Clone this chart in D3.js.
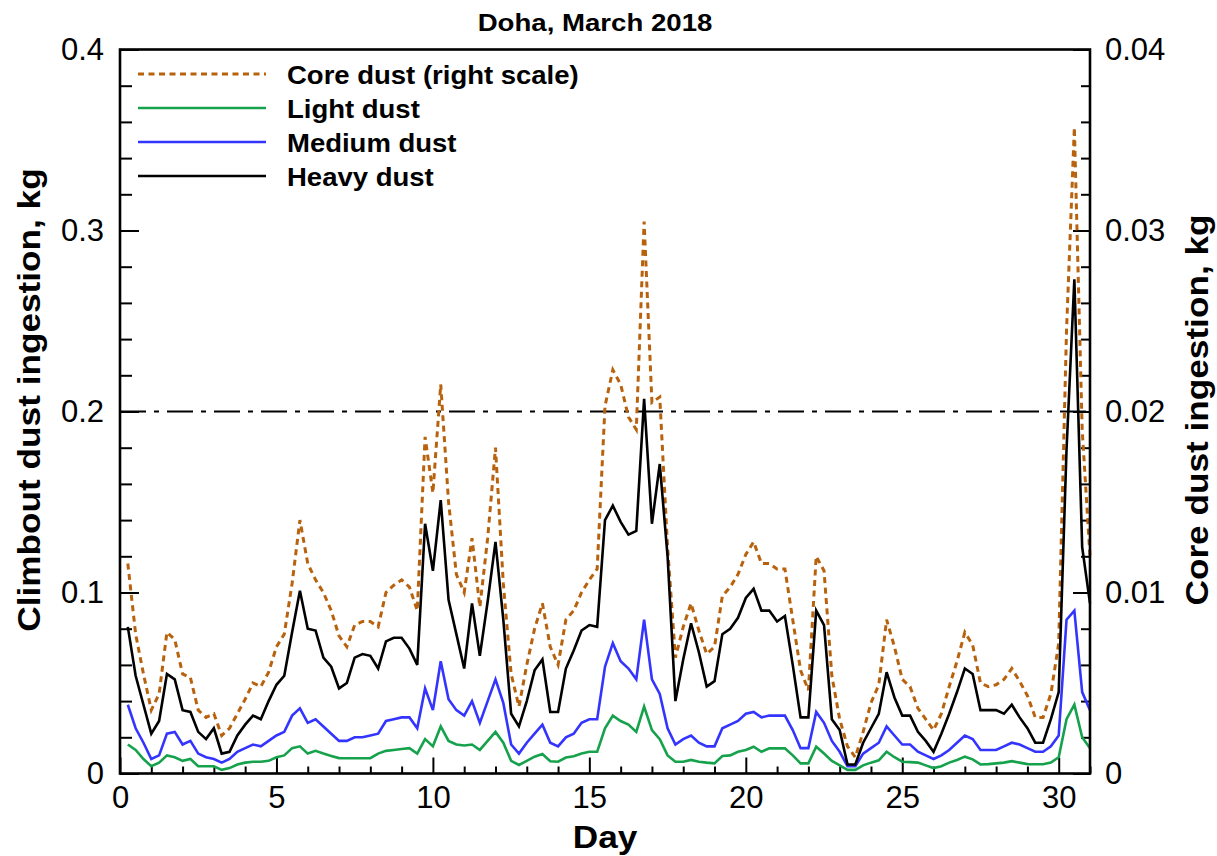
<!DOCTYPE html>
<html>
<head>
<meta charset="utf-8">
<script src="https://cdn.jsdelivr.net/npm/d3@7"></script>
<style>
  html, body { margin: 0; padding: 0; background: #fff; }
  svg { display: block; font-family: "Liberation Sans", Arial, Helvetica, sans-serif; }
</style>
</head>
<body>
<svg id="chart" width="1217" height="856"></svg>
<script>
// Sampling times: every 6 hours through March (day 0.25 … 31.0)
const day = d3.range(1, 125).map(i => i / 4);

// Core dust ingestion, kg (right scale)
const coreDust = [
  // days 0.25 – 10.5
  0.0116, 0.0077, 0.0055, 0.0035, 0.0044, 0.0078, 0.0074, 0.0055, 0.0053, 0.0035,
  0.0031, 0.0033, 0.0021, 0.0025, 0.0033, 0.0041, 0.0050, 0.0048, 0.0056, 0.0070,
  0.0077, 0.0105, 0.0140, 0.0116, 0.0107, 0.0100, 0.0090, 0.0076, 0.0070, 0.0082,
  0.0084, 0.0084, 0.0081, 0.0100, 0.0104, 0.0107, 0.0103, 0.0090, 0.0186, 0.0155,
  0.0215, 0.0150,
  // days 10.75 – 20.0
  0.0110, 0.0100, 0.0130, 0.0092, 0.0130, 0.0180, 0.0105, 0.0055, 0.0037, 0.0060,
  0.0080, 0.0094, 0.0070, 0.0060, 0.0085, 0.0090, 0.0100, 0.0107, 0.0113, 0.0203,
  0.0223, 0.0215, 0.0197, 0.0190, 0.0305, 0.0205, 0.0208, 0.0125, 0.0064, 0.0081,
  0.0094, 0.0079, 0.0066, 0.0070, 0.0098, 0.0103, 0.0110, 0.0121,
  // days 20.25 – 31.0
  0.0128, 0.0116, 0.0116, 0.0113, 0.0113, 0.0085, 0.0057, 0.0046, 0.0120, 0.0112,
  0.0054, 0.0030, 0.0015, 0.0009, 0.0023, 0.0039, 0.0049, 0.0085, 0.0070, 0.0052,
  0.0048, 0.0036, 0.0030, 0.0024, 0.0033, 0.0048, 0.0062, 0.0078, 0.0071, 0.0050,
  0.0048, 0.0049, 0.0052, 0.0058, 0.0051, 0.0043, 0.0031, 0.0031, 0.0044, 0.0072,
  0.0245, 0.0357, 0.0190, 0.0120
];

// Climbout dust ingestion, kg (left scale)
const lightDust = [
  0.016, 0.013, 0.008, 0.004, 0.006, 0.010, 0.009, 0.007, 0.008, 0.004,
  0.004, 0.004, 0.002, 0.003, 0.005, 0.006, 0.0065, 0.0065, 0.007, 0.009,
  0.010, 0.014, 0.015, 0.011, 0.0125, 0.011, 0.0097, 0.0085, 0.0084, 0.0084,
  0.0084, 0.0085, 0.011, 0.0125, 0.013, 0.0135, 0.014, 0.011, 0.019, 0.015,
  0.026, 0.018,
  0.016, 0.0155, 0.016, 0.013, 0.018, 0.023, 0.017, 0.007, 0.0047, 0.007,
  0.0093, 0.0108, 0.0068, 0.0065, 0.0088, 0.0095, 0.011, 0.012, 0.012, 0.025,
  0.032, 0.029, 0.027, 0.023, 0.037, 0.024, 0.019, 0.010, 0.0065, 0.0065,
  0.0075, 0.0065, 0.006, 0.0056, 0.0097, 0.010, 0.012, 0.013,
  0.0148, 0.012, 0.0139, 0.0139, 0.0139, 0.010, 0.0056, 0.0056, 0.0148, 0.011,
  0.007, 0.0045, 0.002, 0.002, 0.0045, 0.006, 0.0073, 0.012, 0.009, 0.0065,
  0.0063, 0.006, 0.0045, 0.003, 0.004, 0.006, 0.0075, 0.0093, 0.0078, 0.005,
  0.0052, 0.0056, 0.006, 0.0068, 0.006, 0.0052, 0.0051, 0.0051, 0.006, 0.009,
  0.030, 0.038, 0.020, 0.014
];

const mediumDust = [
  0.038, 0.025, 0.017, 0.008, 0.010, 0.022, 0.023, 0.016, 0.018, 0.011,
  0.009, 0.008, 0.006, 0.008, 0.012, 0.014, 0.016, 0.015, 0.018, 0.021,
  0.023, 0.032, 0.036, 0.028, 0.030, 0.026, 0.022, 0.018, 0.018, 0.020,
  0.020, 0.021, 0.022, 0.029, 0.030, 0.031, 0.031, 0.025, 0.047, 0.035,
  0.062, 0.041,
  0.035, 0.032, 0.040, 0.028, 0.040, 0.052, 0.039, 0.016, 0.011, 0.017,
  0.022, 0.027, 0.017, 0.015, 0.020, 0.022, 0.028, 0.030, 0.030, 0.059,
  0.072, 0.062, 0.058, 0.052, 0.085, 0.052, 0.044, 0.025, 0.016, 0.019,
  0.021, 0.017, 0.015, 0.015, 0.025, 0.027, 0.029, 0.033,
  0.034, 0.031, 0.032, 0.032, 0.032, 0.024, 0.014, 0.014, 0.034, 0.028,
  0.018, 0.012, 0.004, 0.004, 0.011, 0.014, 0.017, 0.026, 0.021, 0.016,
  0.016, 0.012, 0.010, 0.008, 0.010, 0.013, 0.017, 0.021, 0.019, 0.013,
  0.013, 0.013, 0.015, 0.017, 0.016, 0.014, 0.012, 0.012, 0.015, 0.021,
  0.085, 0.090, 0.045, 0.035
];

const heavyDust = [
  0.081, 0.054, 0.038, 0.022, 0.029, 0.055, 0.052, 0.035, 0.034, 0.023,
  0.019, 0.025, 0.011, 0.012, 0.021, 0.027, 0.032, 0.030, 0.040, 0.049,
  0.054, 0.078, 0.101, 0.080, 0.079, 0.064, 0.059, 0.047, 0.050, 0.064,
  0.066, 0.065, 0.058, 0.073, 0.075, 0.075, 0.069, 0.060, 0.138, 0.112,
  0.151, 0.096,
  0.077, 0.058, 0.094, 0.065, 0.095, 0.128, 0.085, 0.033, 0.026, 0.040,
  0.057, 0.063, 0.034, 0.034, 0.058, 0.068, 0.079, 0.082, 0.081, 0.140,
  0.148, 0.139, 0.132, 0.134, 0.207, 0.138, 0.171, 0.120, 0.040, 0.063,
  0.083, 0.067, 0.048, 0.051, 0.077, 0.080, 0.086, 0.097,
  0.102, 0.090, 0.090, 0.084, 0.087, 0.060, 0.031, 0.031, 0.090, 0.082,
  0.030, 0.024, 0.005, 0.005, 0.017, 0.025, 0.033, 0.056, 0.042, 0.032,
  0.032, 0.023, 0.018, 0.012, 0.022, 0.033, 0.045, 0.058, 0.055, 0.035,
  0.035, 0.035, 0.033, 0.038, 0.031, 0.025, 0.017, 0.017, 0.030, 0.045,
  0.179, 0.273, 0.125, 0.094
];

// Axis ticks
const xTicks = [0, 5, 10, 15, 20, 25, 30];
const xMinorTicks = d3.range(0, 32).filter(d => d % 5 !== 0);
const yLeftTicks = [0, 0.1, 0.2, 0.3, 0.4];
const yLeftLabels = ["0", "0.1", "0.2", "0.3", "0.4"];
const yRightTicks = [0, 0.01, 0.02, 0.03, 0.04];
const yRightLabels = ["0", "0.01", "0.02", "0.03", "0.04"];
const yMinorSteps = d3.range(0, 21).filter(i => i % 5 !== 0);

// Reference level on the left scale (dash-dot line)
const limitLevel = 0.2;

const seriesNames = ["Core dust (right scale)", "Light dust", "Medium dust", "Heavy dust"];

// ---------- layout ----------
const plot = { left: 120, right: 1090, top: 49.5, bottom: 773.5 };
const colors = { core: "#b8620e", light: "#16a24c", medium: "#3434ff", heavy: "#000000" };
const tickFont = 31;

const svg = d3.select("#chart");
svg.append("rect").attr("width", 1217).attr("height", 856).attr("fill", "#fff");

const x = d3.scaleLinear().domain([0, 31]).range([plot.left, plot.right]);
const yL = d3.scaleLinear().domain([0, 0.4]).range([plot.bottom, plot.top]);
const yR = d3.scaleLinear().domain([0, 0.04]).range([plot.bottom, plot.top]);

// text helper: horizontally widened glyphs
function label(parent, txt, px, py, opts) {
  const o = Object.assign({ size: 25, weight: "bold", sx: 1.1, anchor: "start", rotate: 0 }, opts);
  return parent.append("text")
    .attr("transform", `translate(${px},${py}) rotate(${o.rotate}) scale(${o.sx},1)`)
    .attr("text-anchor", o.anchor)
    .attr("font-size", o.size)
    .attr("font-weight", o.weight)
    .attr("fill", "#000")
    .text(txt);
}

function styleAxis(g) {
  g.select(".domain").remove();
  g.selectAll(".tick line").attr("stroke", "#000").attr("stroke-width", 2);
  g.selectAll(".tick text")
    .attr("font-size", tickFont)
    .attr("font-family", '"Liberation Sans", Arial, Helvetica, sans-serif')
    .attr("fill", "#000");
}

// ---------- axes ----------
// bottom
svg.append("g").attr("transform", `translate(0,${plot.bottom})`)
  .call(d3.axisBottom(x).tickValues(xMinorTicks).tickSize(-7).tickFormat(""))
  .call(styleAxis);
svg.append("g").attr("transform", `translate(0,${plot.bottom})`)
  .call(d3.axisBottom(x).tickValues(xTicks).tickSize(-16).tickPadding(12).tickFormat(d3.format("d")))
  .call(styleAxis);

// left
svg.append("g").attr("transform", `translate(${plot.left},0)`)
  .call(d3.axisLeft(yL).tickValues(yMinorSteps.map(i => i * 0.02)).tickSize(-12).tickFormat(""))
  .call(styleAxis);
svg.append("g").attr("transform", `translate(${plot.left},0)`)
  .call(d3.axisLeft(yL).tickValues(yLeftTicks).tickSize(-19).tickPadding(16)
    .tickFormat((d, i) => yLeftLabels[i]))
  .call(styleAxis);

// right
svg.append("g").attr("transform", `translate(${plot.right},0)`)
  .call(d3.axisRight(yR).tickValues(yMinorSteps.map(i => i * 0.002)).tickSize(-9).tickFormat(""))
  .call(styleAxis);
svg.append("g").attr("transform", `translate(${plot.right},0)`)
  .call(d3.axisRight(yR).tickValues(yRightTicks).tickSize(-17).tickPadding(15)
    .tickFormat((d, i) => yRightLabels[i]))
  .call(styleAxis);

// dash-dot reference line
svg.append("line")
  .attr("x1", x(0)).attr("x2", x(31))
  .attr("y1", yL(limitLevel)).attr("y2", yL(limitLevel))
  .attr("stroke", "#000").attr("stroke-width", 1.8)
  .attr("stroke-dasharray", "26,8,5,8");

// ---------- series ----------
const lineL = d3.line().x((d, i) => x(day[i])).y(d => yL(d));
const lineR = d3.line().x((d, i) => x(day[i])).y(d => yR(d));

const series = [
  { name: seriesNames[0], values: coreDust, gen: lineR, color: colors.core, width: 3, dash: "6,4.5" },
  { name: seriesNames[1], values: lightDust, gen: lineL, color: colors.light, width: 2.6, dash: null },
  { name: seriesNames[2], values: mediumDust, gen: lineL, color: colors.medium, width: 2.6, dash: null },
  { name: seriesNames[3], values: heavyDust, gen: lineL, color: colors.heavy, width: 2.6, dash: null }
];

const gLines = svg.append("g");
series.forEach(s => {
  gLines.append("path")
    .attr("d", s.gen(s.values))
    .attr("fill", "none")
    .attr("stroke", s.color)
    .attr("stroke-width", s.width)
    .attr("stroke-linejoin", "miter")
    .attr("stroke-dasharray", s.dash);
});

// frame
svg.append("rect")
  .attr("x", plot.left).attr("y", plot.top)
  .attr("width", plot.right - plot.left).attr("height", plot.bottom - plot.top)
  .attr("fill", "none").attr("stroke", "#000").attr("stroke-width", 2.6);

// ---------- legend ----------
const legend = svg.append("g");
series.forEach((s, i) => {
  const ly = 74 + i * 34;
  legend.append("line")
    .attr("x1", 138).attr("x2", 266).attr("y1", ly).attr("y2", ly)
    .attr("stroke", s.color).attr("stroke-width", s.width)
    .attr("stroke-dasharray", s.dash);
  label(legend, s.name, 287, ly + 9.5, { size: 25, sx: 1.1 });
});

// ---------- titles ----------
label(svg, "Doha, March 2018", 595, 31, { size: 24, sx: 1.15, anchor: "middle" });
label(svg, "Day", 605, 848, { size: 32, sx: 1.1, anchor: "middle" });
label(svg, "Climbout dust ingestion, kg", 40, 400, { size: 32, sx: 1.1, anchor: "middle", rotate: -90 });
label(svg, "Core dust ingestion, kg", 1208, 410, { size: 32, sx: 1.1, anchor: "middle", rotate: -90 });
</script>
</body>
</html>
